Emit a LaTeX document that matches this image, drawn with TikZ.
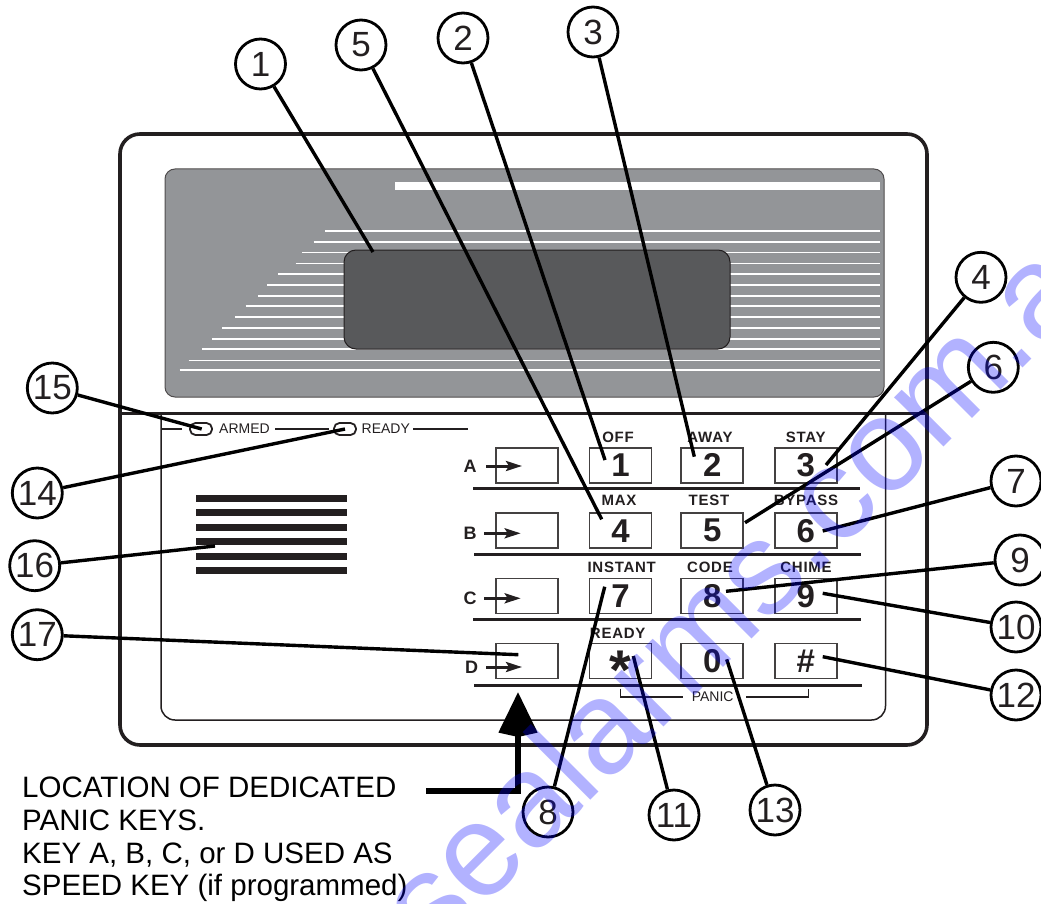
\documentclass[tikz,border=0pt]{standalone}
\usepackage{fontspec}
\setmainfont{Liberation Sans}
\newfontfamily\spaced[LetterSpace=5,Ligatures=NoCommon]{Liberation Sans}
\usetikzlibrary{arrows.meta}
\definecolor{ink}{HTML}{231F20}
\definecolor{panelgray}{HTML}{939598}
\definecolor{lcdgray}{HTML}{58595B}
\tikzset{
  x=1pt,y=-1pt,
  callout/.style={circle,draw=black,line width=2.8pt,minimum size=50pt,inner sep=0pt,font=\fontsize{35}{35}\selectfont,text=ink},
  leader/.style={draw=black,line width=3.4pt},
  keybox/.style={rectangle,draw=ink!85!white,line width=1.7pt,minimum width=62pt,minimum height=35pt,inner sep=0pt,font=\fontsize{33}{33}\selectfont\bfseries,text=ink},
  keylabel/.style={font=\spaced\fontsize{15}{15}\selectfont\bfseries,text=ink,inner sep=0pt},
  rowletter/.style={font=\fontsize{18}{18}\selectfont\bfseries,text=ink,inner sep=0pt},
  rowrule/.style={draw=ink,line width=3pt},
  rowarrow/.style={draw=ink,line width=3pt,-{Stealth[length=16pt,width=10pt,inset=3pt]}},
  ledlabel/.style={font=\fontsize{14}{14}\selectfont,text=ink,inner sep=0pt},
  sliver/.style={draw=white,line width=1.6pt},
  speakerbar/.style={fill=ink,draw=none},
  ledbar/.style={draw=ink,line width=2.6pt},
  led/.style={draw=ink,line width=1.8pt,rounded corners=5.5pt},
}
\begin{document}
\begin{tikzpicture}
\useasboundingbox (0,0) rectangle (1041,904);
% housing
\draw[ink,line width=3.6pt,rounded corners=20pt] (120,134) rectangle (927,745);
\draw[ink,line width=1.5pt,rounded corners=14pt] (161,413) -- (161,720) -- (885.5,720) -- (885.5,413);
\draw[ink,line width=3pt] (120,413) -- (927,413);
% display
\draw[draw=ink!80!white,fill=panelgray,line width=1pt,rounded corners=10pt] (165,169) rectangle (884,397);
\fill[white] (395,182) rectangle (880,190);
\foreach \yy/\xs in {230.7/325,241.7/313.7,252.3/302,263.3/295.7,274/278.3,285/267.3,295.7/258,306/245.7,317/235,328/222.3,339/212,349/202,360.3/188.7,369.7/179.7}{
  \draw[sliver] (\xs,\yy) -- (880,\yy);
}
\draw[draw=ink,fill=lcdgray,line width=1pt,rounded corners=12pt] (344,250) rectangle (730,349);
% LED row
\draw[ledbar] (161,429) -- (182,429);
\draw[ledbar] (275,429) -- (329,429);
\draw[ledbar] (413,429) -- (468,429);
\draw[led] (190,423) rectangle (212,435);
\draw[led] (334,423) rectangle (356,435);
\node[ledlabel,anchor=west] (armed) at (219,429) {ARMED};
\node[ledlabel,anchor=west] (ready) at (361.5,429) {READY};
\coordinate (ledA) at (201.7,429);
\coordinate (ledB) at (345,429);
% speaker
\foreach \yy in {498,512.3,527,541.3,556,570.3}{
  \fill[speakerbar] (196,\yy-3.5) rectangle (346.5,\yy+3.5);
}
% keys
\node[keybox] (ka) at (527.2,465.3) {};
\node[keybox] (kb) at (527.2,530.7) {};
\node[keybox] (kc) at (527.2,596) {};
\node[keybox] (kd) at (527.2,661) {};
\node[keybox] (k1) at (620.5,465.3) {1};
\node[keybox] (k2) at (712.3,465.3) {2};
\node[keybox] (k3) at (805.8,465.3) {3};
\node[keybox] (k4) at (620.5,530.7) {4};
\node[keybox] (k5) at (712.3,530.7) {5};
\node[keybox] (k6) at (805.8,530.7) {6};
\node[keybox] (k7) at (620.5,596) {7};
\node[keybox] (k8) at (712.3,596) {8};
\node[keybox] (k9) at (805.8,596) {9};
\node[keybox] (kstar) at (620.5,661) {\smash{\raisebox{-28pt}{\fontsize{56}{56}\selectfont *}}};
\node[keybox] (k0) at (712.3,661) {0};
\node[keybox] (khash) at (805.8,661) {\#};
% key captions
\node[keylabel] (t1) at (618,437.7) {OFF};
\node[keylabel] (t2) at (710,437.7) {AWAY};
\node[keylabel] (t3) at (805.7,437.7) {STAY};
\node[keylabel] (t4) at (619,500.7) {MAX};
\node[keylabel] (t5) at (709,500.7) {TEST};
\node[keylabel] (t6) at (806,500.7) {BYPASS};
\node[keylabel] (t7) at (621.7,567.7) {INSTANT};
\node[keylabel] (t8) at (710,567.7) {CODE};
\node[keylabel] (t9) at (806,567.7) {CHIME};
\node[keylabel] (t10) at (617.7,633.3) {READY};
% row rules
\draw[rowrule] (473,488.3) -- (860,488.3);
\draw[rowrule] (474,554.3) -- (861,554.3);
\draw[rowrule] (473,619.7) -- (861,619.7);
\draw[rowrule] (474,685) -- (862,685);
% row letters and arrows
\node[rowletter] (la) at (470,466) {A};
\node[rowletter] (lb) at (470,533.7) {B};
\node[rowletter] (lc) at (470,598) {C};
\node[rowletter] (ld) at (471.7,667) {D};
\coordinate (aa0) at (486,466);   \coordinate (aa1) at (522,466);
\coordinate (ab0) at (484,533.3); \coordinate (ab1) at (520.7,533.3);
\coordinate (ac0) at (484,598.3); \coordinate (ac1) at (520.7,598.3);
\coordinate (ad0) at (486,667);   \coordinate (ad1) at (522,667);
\draw[rowarrow] (aa0) -- (aa1);
\draw[rowarrow] (ab0) -- (ab1);
\draw[rowarrow] (ac0) -- (ac1);
\draw[rowarrow] (ad0) -- (ad1);
% PANIC bracket
\node[ledlabel,text=ink] (panic) at (712.7,697) {PANIC};
\draw[ink,line width=1.5pt] (620.7,688.7) -- (620.7,697) -- (683,697);
\draw[ink,line width=1.5pt] (746,697) -- (808.3,697) -- (808.3,688.7);
% callouts
\node[callout] (c1) at (260.5,64) {1};
\node[callout] (c5) at (361,45) {5};
\node[callout] (c2) at (463,38) {2};
\node[callout] (c3) at (593,32) {3};
\node[callout] (c4) at (981,277.3) {4};
\node[callout] (c6) at (993.3,367.3) {6};
\node[callout] (c7) at (1016,481) {7};
\node[callout] (c9) at (1020,560) {9};
\node[callout] (c10) at (1016,627) {10};
\node[callout] (c12) at (1016,695) {12};
\node[callout] (c8) at (548,812) {8};
\node[callout] (c11) at (674,815) {11};
\node[callout] (c13) at (775,810) {13};
\node[callout] (c15) at (52.3,388) {15};
\node[callout] (c14) at (37.3,493) {14};
\node[callout] (c16) at (34.7,565.7) {16};
\node[callout] (c17) at (37.3,634.7) {17};
\coordinate (e1) at (373,252);
\coordinate (e5) at (601.7,519.3);
\coordinate (e2) at (605,460);
\coordinate (e3) at (694.3,456.7);
\coordinate (e4) at (826,465);
\coordinate (e6) at (745,522.7);
\coordinate (e7) at (822.7,531);
\coordinate (e9) at (726,591.3);
\coordinate (e10) at (822.7,593.3);
\coordinate (e12) at (822.7,656.7);
\coordinate (e8) at (604.7,586.7);
\coordinate (e11) at (633.3,656);
\coordinate (e13) at (726.7,659.3);
\coordinate (e16) at (215,546);
\coordinate (e17) at (518.3,654.7);
\foreach \n in {1,5,2,3,4,6,7,9,10,12,8,11,13,16,17}{
  \draw[leader] (c\n) -- (e\n);
}
\draw[leader] (c15) -- (ledA);
\draw[leader] (c14) -- (ledB);
% note and big arrow
\node[anchor=north west,inner sep=0pt,align=left,text=black,font=\fontsize{29.5}{32.7}\selectfont] (note) at (22,777) {LOCATION OF DEDICATED\\PANIC KEYS.\\KEY A, B, C, or D USED AS\\SPEED KEY (if programmed)};
\coordinate (barstart) at (426,791);
\coordinate (bartip) at (518,692);
\draw[black,line width=6pt,-{Stealth[length=40pt,width=37pt,inset=-5pt]}] (barstart) -| (bartip);
% watermark
\node[anchor=base west,rotate=45,inner sep=0pt,text=blue,opacity=0.3,font=\fontsize{132}{132}\selectfont] (mark) at (434,957.2) {sealarms.com.a};
\end{tikzpicture}
\end{document}
